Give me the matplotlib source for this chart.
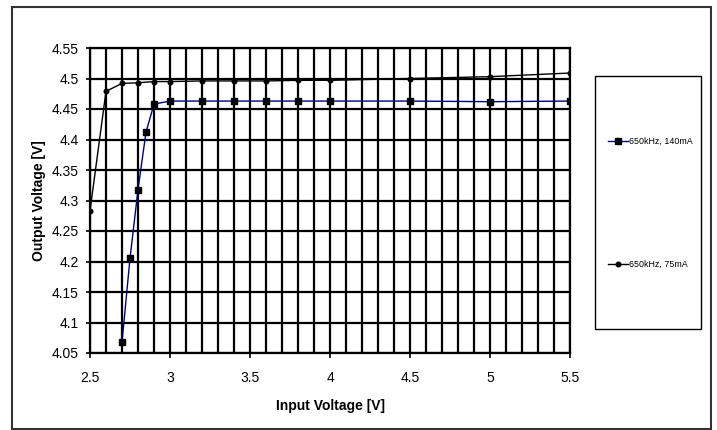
import matplotlib
matplotlib.use("Agg")
import matplotlib.pyplot as plt
from matplotlib.patches import Rectangle
from matplotlib.ticker import MultipleLocator
import numpy as np

plt.rcParams['font.family'] = ['Liberation Sans', 'DejaVu Sans']

# 650kHz, 140mA
vin_140 = [2.7, 2.75, 2.8, 2.85, 2.9, 3.0, 3.2, 3.4, 3.6, 3.8, 4.0, 4.5, 5.0, 5.5]
vout_140 = [4.068, 4.205, 4.318, 4.412, 4.458, 4.463, 4.463, 4.463, 4.463,
            4.463, 4.463, 4.463, 4.462, 4.463]

# 650kHz, 75mA
vin_75 = [2.5, 2.6, 2.7, 2.8, 2.9, 3.0, 3.2, 3.4, 3.6, 3.8, 4.0, 4.5, 5.0, 5.5]
vout_75 = [4.283, 4.479, 4.492, 4.493, 4.495, 4.495, 4.496, 4.496, 4.496,
           4.497, 4.497, 4.500, 4.503, 4.509]

labels = ["650kHz, 140mA", "650kHz, 75mA"]

W, H = 717, 430
fig = plt.figure(figsize=(W / 100, H / 100), dpi=100)

# plot area in pixel coords
left, right, top, bottom = 90, 570, 48, 353
ax = fig.add_axes([left / W, 1 - bottom / H, (right - left) / W, (bottom - top) / H])

# outer frame
fig.patches.append(Rectangle((12 / W, 1 - 429 / H), (711 - 12) / W, (429 - 7) / H,
                             transform=fig.transFigure, fill=False,
                             edgecolor='#333333', linewidth=1.5))

ax.plot(vin_140, vout_140, color='#000080', linewidth=1.0, marker='s',
        markersize=3.8, markerfacecolor='black', markeredgecolor='black',
        label=labels[0], zorder=5)
ax.plot(vin_75, vout_75, color='black', linewidth=1.0, marker='o',
        markersize=3.3, markerfacecolor='black', markeredgecolor='black',
        label=labels[1], zorder=5)

ax.set_xlim(2.5, 5.5)
ax.set_ylim(4.05, 4.55)
ax.xaxis.set_major_locator(MultipleLocator(0.5))
ax.xaxis.set_minor_locator(MultipleLocator(0.1))
ax.yaxis.set_major_locator(MultipleLocator(0.05))
ax.set_xticklabels([f"{v:g}" for v in ax.get_xticks()])
ax.set_yticklabels([f"{v:.2f}".rstrip('0').rstrip('.') for v in ax.get_yticks()])

ax.grid(which='both', color='black', linewidth=1.6, zorder=1)
ax.set_axisbelow(True)
ax.tick_params(axis='x', which='major', direction='out', length=3.6, width=1.2,
               labelsize=10, pad=9.5)
ax.tick_params(axis='y', which='major', direction='out', length=3, width=1.2,
               labelsize=10, pad=5)
ax.tick_params(which='minor', length=0)
for s in ax.spines.values():
    s.set_linewidth(1.6)
    s.set_color('black')

ax.set_xlabel("Input Voltage [V]", fontsize=10, fontweight='bold', labelpad=10)
ax.set_ylabel("Output Voltage [V]", fontsize=10, fontweight='bold', labelpad=4)

# legend box
fig.patches.append(Rectangle((595 / W, 1 - 329 / H), (701 - 595) / W, (329 - 76) / H,
                             transform=fig.transFigure, fill=False,
                             edgecolor='black', linewidth=1.0))
leg = fig.legend(loc='center left', bbox_to_anchor=(604 / W, 1 - 203 / H),
                 frameon=False, fontsize=6.4, handlelength=2.2,
                 handletextpad=0.1, labelspacing=12.8, borderpad=0)

fig.savefig("out.png", dpi=100)
